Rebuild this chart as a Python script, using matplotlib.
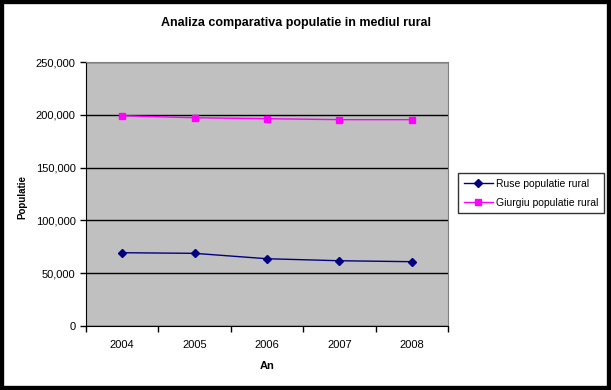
import numpy as np
import matplotlib.pyplot as plt
from matplotlib.patches import Rectangle

plt.rcParams['font.family'] = ['Liberation Sans', 'DejaVu Sans']

years = ['2004', '2005', '2006', '2007', '2008']
ruse = [69400, 68800, 63700, 61800, 60900]
giurgiu = [199100, 197200, 196300, 195400, 195400]

fig = plt.figure(figsize=(6.11, 3.90), dpi=100)
ax = fig.add_axes([86 / 611, 1 - 326 / 390, 362 / 611, 264 / 390])
ax.set_facecolor('#C0C0C0')

x = np.arange(len(years))
ax.plot(x, ruse, color='#000080', marker='D', markersize=4, linewidth=1,
        label='Ruse populatie rural')
ax.plot(x, giurgiu, color='#FF00FF', marker='s', markersize=5, linewidth=1,
        label='Giurgiu populatie rural')

ax.set_xlim(-0.5, 4.5)
ax.set_ylim(0, 250000)
ax.set_yticks(np.arange(0, 250001, 50000))
ax.set_yticklabels([f'{v:,}' for v in range(0, 250001, 50000)], fontsize=8)
ax.yaxis.grid(True, color='black', linewidth=1)
ax.set_axisbelow(True)

# category ticks between years, labels centred
ax.set_xticks(np.arange(-0.5, 5, 1))
ax.set_xticklabels([])
ax.set_xticks(x, minor=True)
ax.set_xticklabels(years, minor=True, fontsize=8)
ax.tick_params(axis='x', which='minor', length=0, pad=10)
ax.tick_params(axis='both', which='major', length=4, width=1, direction='out')

for s in ['top', 'right']:
    ax.spines[s].set_color('#808080')
for s in ['left', 'bottom']:
    ax.spines[s].set_color('black')

ax.set_xlabel('An', fontsize=8, fontweight='bold', labelpad=8)
fig.text(22 / 611, 1 - 197 / 390, 'Populatie', rotation=90, fontsize=7,
         fontweight='bold', ha='center', va='center')
fig.text(0.5 - 0.015, 1 - 23 / 390, 'Analiza comparativa populatie in mediul rural',
         fontsize=9, fontweight='bold', ha='center', va='center')

leg = ax.legend(loc='upper left', bbox_to_anchor=(458 / 611, 1 - 173 / 390),
                bbox_transform=fig.transFigure, fontsize=7.5, frameon=True,
                fancybox=False, edgecolor='black', handlelength=2.8,
                handletextpad=0.3, borderpad=0.55, labelspacing=0.85,
                borderaxespad=0)
leg.get_frame().set_linewidth(1)

# outer black border
fig.patches.append(Rectangle((0, 0), 1, 1, transform=fig.transFigure,
                             fill=False, edgecolor='black', linewidth=6))

fig.savefig('out.png', dpi=100)
